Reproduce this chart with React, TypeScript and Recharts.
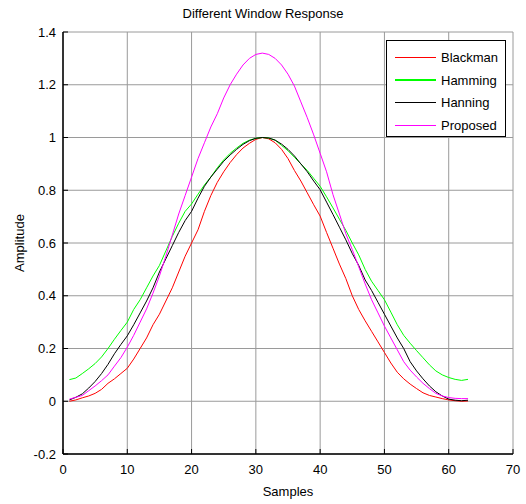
import React from "react";
import { LineChart, Line, XAxis, YAxis, CartesianGrid } from "recharts";

// sample index along the window
const samples = [
  1, 2, 3, 4, 5, 6, 7, 8, 9, 10, 11, 12, 13, 14, 15, 16, 17, 18, 19, 20, 21,
  22, 23, 24, 25, 26, 27, 28, 29, 30, 31, 32, 33, 34, 35, 36, 37, 38, 39, 40,
  41, 42, 43, 44, 45, 46, 47, 48, 49, 50, 51, 52, 53, 54, 55, 56, 57, 58, 59,
  60, 61, 62, 63,
];

const blackman = [
  0.0, 0.005, 0.013, 0.02, 0.03, 0.045, 0.068, 0.085, 0.105, 0.125, 0.16, 0.2,
  0.24, 0.29, 0.33, 0.38, 0.43, 0.49, 0.55, 0.6, 0.65, 0.72, 0.78, 0.83, 0.87,
  0.905, 0.935, 0.96, 0.978, 0.993, 1.0, 0.995, 0.98, 0.955, 0.92, 0.875, 0.835,
  0.79, 0.745, 0.702, 0.64, 0.58, 0.52, 0.465, 0.4, 0.348, 0.305, 0.265, 0.225,
  0.185, 0.145, 0.11, 0.085, 0.065, 0.048, 0.032, 0.022, 0.016, 0.01, 0.005,
  0.002, 0.0, 0.001,
];

const hamming = [
  0.082, 0.088, 0.105, 0.123, 0.143, 0.168, 0.2, 0.235, 0.268, 0.3, 0.348,
  0.385, 0.43, 0.475, 0.515, 0.57, 0.625, 0.675, 0.72, 0.748, 0.785, 0.82, 0.85,
  0.885, 0.915, 0.94, 0.96, 0.978, 0.99, 0.997, 1.0, 0.998, 0.99, 0.97, 0.95,
  0.925, 0.9, 0.875, 0.845, 0.815, 0.775, 0.733, 0.69, 0.648, 0.6, 0.555, 0.5,
  0.455, 0.42, 0.385, 0.338, 0.29, 0.25, 0.22, 0.192, 0.165, 0.138, 0.115, 0.1,
  0.09, 0.083, 0.079, 0.083,
];

const hanning = [
  0.005, 0.015, 0.028, 0.05, 0.075, 0.105, 0.14, 0.18, 0.215, 0.248, 0.29,
  0.335, 0.38, 0.43, 0.49, 0.54, 0.59, 0.64, 0.685, 0.72, 0.77, 0.815, 0.85,
  0.88, 0.91, 0.934, 0.955, 0.974, 0.988, 0.997, 1.0, 0.998, 0.99, 0.975, 0.955,
  0.93, 0.9, 0.87, 0.835, 0.802, 0.755, 0.708, 0.66, 0.612, 0.56, 0.515, 0.46,
  0.42, 0.375, 0.33, 0.285, 0.24, 0.2, 0.15, 0.115, 0.085, 0.058, 0.036, 0.02,
  0.008, 0.004, 0.002, 0.004,
];

const proposed = [
  0.008, 0.015, 0.022, 0.04, 0.058, 0.078, 0.1, 0.133, 0.165, 0.205, 0.25, 0.3,
  0.35, 0.41, 0.475, 0.55, 0.63, 0.71, 0.78, 0.85, 0.92, 0.98, 1.04, 1.09, 1.15,
  1.2, 1.24, 1.275, 1.3, 1.315, 1.32, 1.315, 1.3, 1.275, 1.24, 1.195, 1.135,
  1.075, 1.01, 0.94, 0.87, 0.783, 0.71, 0.635, 0.575, 0.51, 0.445, 0.385, 0.335,
  0.285, 0.24, 0.195, 0.15, 0.118, 0.092, 0.068, 0.048, 0.03, 0.02, 0.014,
  0.011, 0.01, 0.01,
];

const xTicks = [0, 10, 20, 30, 40, 50, 60, 70];
const yTicks = [-0.2, 0, 0.2, 0.4, 0.6, 0.8, 1, 1.2, 1.4];

const series = [
  { key: "blackman", name: "Blackman", color: "#ff0000", legendWidth: 1 },
  { key: "hamming", name: "Hamming", color: "#00ff00", legendWidth: 2 },
  { key: "hanning", name: "Hanning", color: "#000000", legendWidth: 1 },
  { key: "proposed", name: "Proposed", color: "#ff00ff", legendWidth: 1 },
];

const data = samples.map((s, i) => ({
  sample: s,
  blackman: blackman[i],
  hamming: hamming[i],
  hanning: hanning[i],
  proposed: proposed[i],
}));

const FONT = '"Liberation Sans", Arial, sans-serif';

// MATLAB-style boxed legend in the top right corner of the axes
function LegendBox() {
  return (
    <div
      style={{
        position: "absolute",
        top: 40,
        left: 386,
        width: 118,
        height: 90,
        border: "1.5px solid #000",
        background: "#fff",
        fontFamily: FONT,
        fontSize: 13,
        paddingTop: 5,
        zIndex: 3,
      }}
    >
      {series.map((s) => (
        <div
          key={s.key}
          style={{ display: "flex", alignItems: "center", height: 22.7 }}
        >
          <div
            style={{
              marginLeft: 8,
              width: 41,
              height: s.legendWidth,
              background: s.color,
            }}
          />
          <span style={{ marginLeft: 5, color: "#000" }}>{s.name}</span>
        </div>
      ))}
    </div>
  );
}

export default function App() {
  return (
    <div
      style={{
        position: "absolute",
        top: 0,
        left: 0,
        width: 526,
        height: 504,
        background: "#fff",
      }}
    >
      <div
        style={{
          position: "absolute",
          top: 6,
          left: 0,
          width: 526,
          textAlign: "center",
          fontFamily: FONT,
          fontSize: 13,
          zIndex: 2,
        }}
      >
        Different Window Response
      </div>
      <LegendBox />
      <LineChart
        width={526}
        height={504}
        data={data}
        margin={{ top: 32, right: 13, left: 0, bottom: 0 }}
        style={{ fontFamily: FONT }}
      >
        <CartesianGrid
          stroke="#9a9a9a"
          horizontalValues={yTicks}
          verticalValues={xTicks}
        />
        <XAxis
          dataKey="sample"
          type="number"
          domain={[0, 70]}
          ticks={xTicks}
          height={50}
          tickSize={-5}
          tickMargin={16}
          tick={{ fill: "#000", fontSize: 13 }}
          stroke="#000"
          axisLine={{ stroke: "#000", strokeWidth: 1.5 }}
          interval={0}
          label={{
            value: "Samples",
            position: "insideBottom",
            offset: 8,
            fill: "#000",
            fontSize: 13,
          }}
        />
        <XAxis
          xAxisId="top"
          dataKey="sample"
          type="number"
          orientation="top"
          domain={[0, 70]}
          ticks={xTicks}
          height={0}
          tick={false}
          tickSize={-5}
          stroke="#000"
          axisLine={{ stroke: "#000", strokeWidth: 1.5 }}
        />
        <YAxis
          type="number"
          domain={[-0.2, 1.4]}
          ticks={yTicks}
          width={63}
          tickSize={-5}
          tickMargin={12}
          tick={{ fill: "#000", fontSize: 13 }}
          stroke="#000"
          axisLine={{ stroke: "#000", strokeWidth: 1.5 }}
          interval={0}
          label={{
            value: "Amplitude",
            angle: -90,
            position: "insideLeft",
            offset: 19,
            fill: "#000",
            fontSize: 13,
            style: { textAnchor: "middle" },
          }}
        />
        <YAxis
          yAxisId="right"
          orientation="right"
          type="number"
          domain={[-0.2, 1.4]}
          ticks={yTicks}
          width={0}
          tick={false}
          tickSize={-5}
          stroke="#000"
          axisLine={{ stroke: "#000", strokeWidth: 1.5 }}
        />
        {series.map((s) => (
          <Line
            key={s.key}
            type="linear"
            dataKey={s.key}
            name={s.name}
            stroke={s.color}
            strokeWidth={1}
            dot={false}
            isAnimationActive={false}
          />
        ))}
      </LineChart>
    </div>
  );
}
